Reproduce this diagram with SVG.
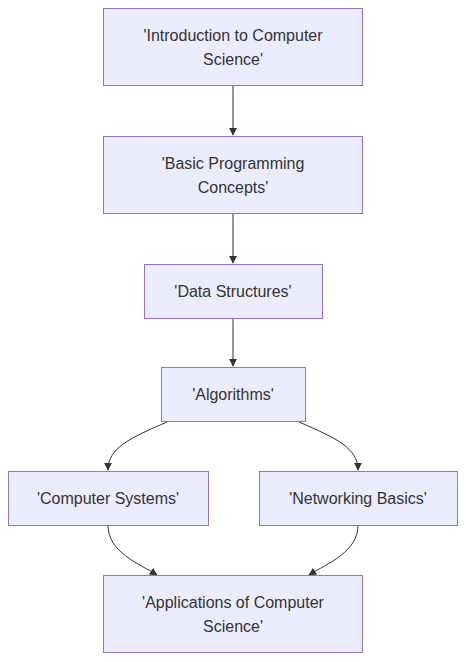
<svg xmlns="http://www.w3.org/2000/svg" width="466" height="662" viewBox="0 0 466 662">
<style>
.node rect{fill:#ECECFF;stroke:#9370DB;stroke-width:1}
.node text{font-family:"Liberation Sans",Arial,sans-serif;font-size:16px;fill:#333;text-anchor:middle;dominant-baseline:central}
.edges path{fill:none;stroke:#333;stroke-width:1}
</style>
<defs>
<marker id="arrow" viewBox="0 0 10 10" refX="9" refY="5" markerWidth="8" markerHeight="8" markerUnits="userSpaceOnUse" orient="auto">
<path d="M0,0 L10,5 L0,10 z" fill="#333"/>
</marker>
</defs>
<rect width="466" height="662" fill="#ffffff"/>
<g class="edges">
<path d="M233,85 L233,135" marker-end="url(#arrow)"/>
<path d="M233,213 L233,263" marker-end="url(#arrow)"/>
<path d="M233,318 L233,366" marker-end="url(#arrow)"/>
<path d="M167,422 C130,438 108,448 108,470" marker-end="url(#arrow)"/>
<path d="M299,422 C336,438 358,448 358,470" marker-end="url(#arrow)"/>
<path d="M108,525 C108,552 138,563 157,575" marker-end="url(#arrow)"/>
<path d="M358,525 C358,552 328,563 309,575" marker-end="url(#arrow)"/>
</g>
<g class="node" id="intro">
<rect x="103.5" y="8.5" width="259" height="77"/>
<text x="233" y="35">'Introduction to Computer</text>
<text x="233" y="59">Science'</text>
</g>
<g class="node" id="basic">
<rect x="103.5" y="136.5" width="259" height="77"/>
<text x="233" y="163">'Basic Programming</text>
<text x="233" y="187">Concepts'</text>
</g>
<g class="node" id="data">
<rect x="144.5" y="264.5" width="178" height="54"/>
<text x="233" y="291">'Data Structures'</text>
</g>
<g class="node" id="algo">
<rect x="161.5" y="367.5" width="144" height="54"/>
<text x="233" y="394">'Algorithms'</text>
</g>
<g class="node" id="compsys">
<rect x="8.5" y="471.5" width="200" height="54"/>
<text x="108" y="498">'Computer Systems'</text>
</g>
<g class="node" id="network">
<rect x="259.5" y="471.5" width="198" height="54"/>
<text x="358" y="498">'Networking Basics'</text>
</g>
<g class="node" id="apps">
<rect x="103.5" y="575.5" width="259" height="77"/>
<text x="233" y="602">'Applications of Computer</text>
<text x="233" y="626">Science'</text>
</g>
</svg>
